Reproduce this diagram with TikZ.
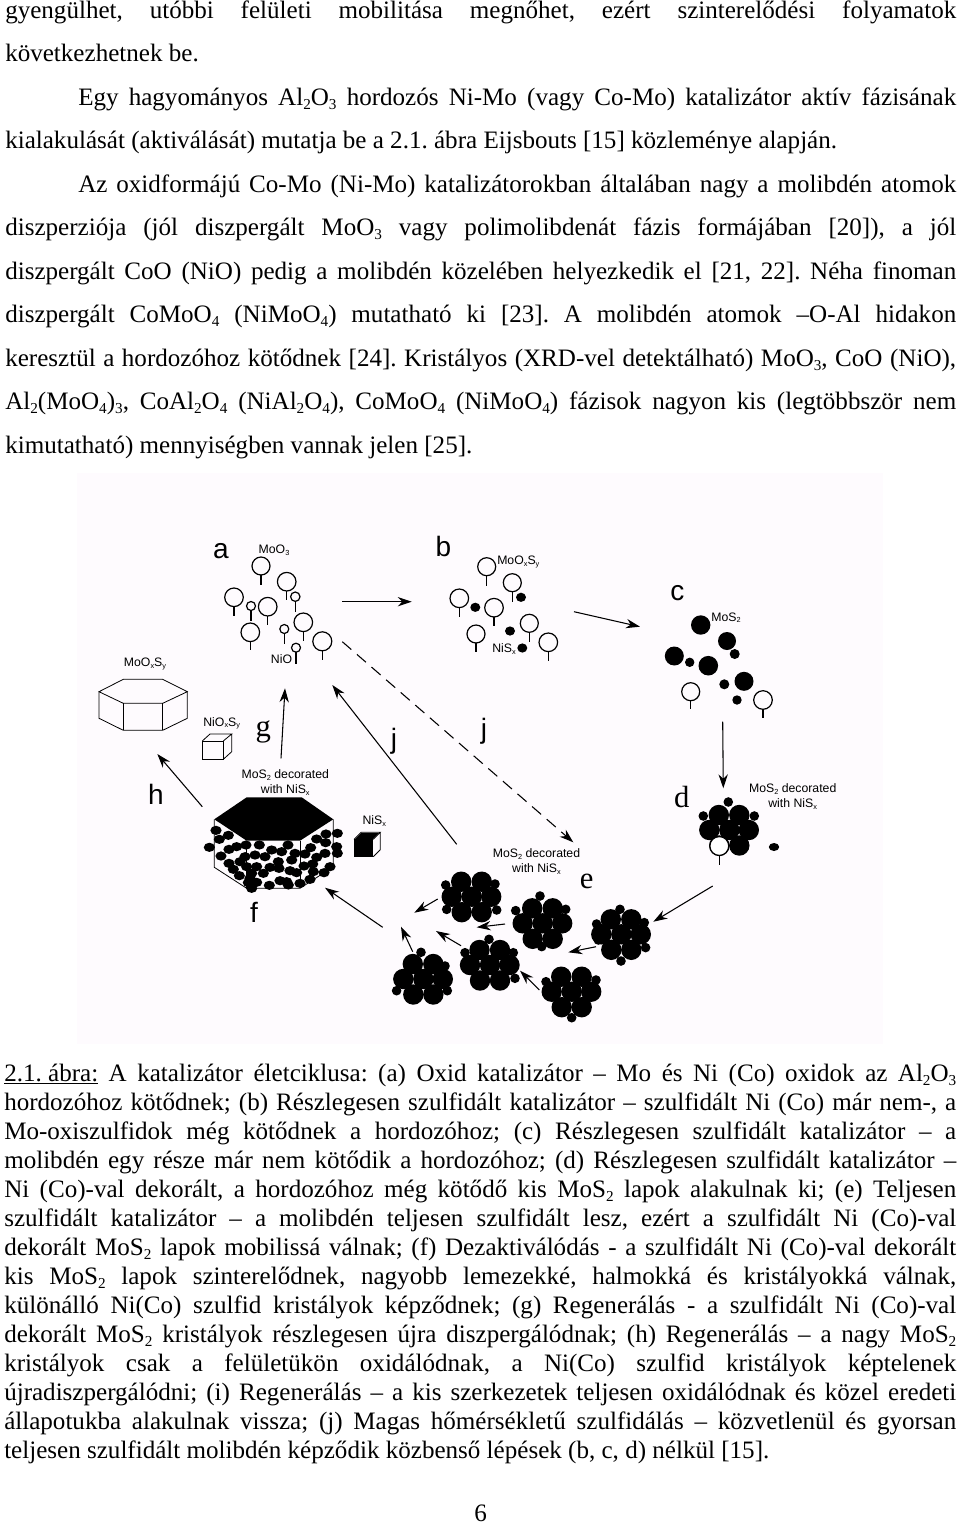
\documentclass[tikz,border=0pt]{standalone}
\usepackage{fontspec}
\setmainfont{Liberation Serif}
\newfontfamily\figfont{Liberation Sans}
\usetikzlibrary{arrows.meta}

\definecolor{figback}{HTML}{FEFBFE}
\frenchspacing

% a line of the page, stretched to its full width
\newcommand{\pageline}[5]{\node[pagetext] (#1) at (#2,#3) {\hbox to \dimexpr #4pt*3/4\relax{#5}};}
\newcommand{\subn}[1]{\raisebox{-.35ex}{\fontsize{11.4}{11.4}\selectfont #1}}
\newcommand{\subf}[1]{\raisebox{-.3ex}{\fontsize{5.5}{5.5}\selectfont #1}}
% support grain on a stalk
\newcommand{\stemball}[4]{
  \draw[ballline] (#1,#2) circle [radius=#3];
  \draw[ballline] (#1,{#2+#3}) -- (#1,#4);
}
% hexagonal heap of crystallites
\newcommand{\ballheap}[3]{
  \begin{scope}[shift={(#1,#2)}]
    \foreach \bx/\by in {-10.5/-15,10/-15,-20/0,0/0,19.5/0,-10/15.5,10/15.5}
      \fill (\bx,\by) circle [radius=10.2];
    \foreach \bx/\by in {#3}
      \fill (\bx,\by) circle [radius=4.8];
  \end{scope}
}

\begin{document}
\begin{tikzpicture} [
    x=0.75pt, y=-0.75pt,
    pagetext/.style  = { anchor=base west, inner sep=0pt, font=\fontsize{18.8}{22}\selectfont },
    figlabel/.style  = { inner sep=0pt, font=\figfont\fontsize{9.2}{11}\selectfont, align=center },
    letter/.style    = { inner sep=0pt, font=\figfont\fontsize{21}{24}\selectfont },
    serifletter/.style = { inner sep=0pt, font=\fontsize{23}{24}\selectfont },
    ballline/.style  = { draw, line width=0.9pt },
    edgeline/.style  = { draw, line width=0.6pt },
    line/.style      = { draw, line width=0.8pt, -{Stealth[length=10.5pt,width=7pt]} },
  ]
  \useasboundingbox (0,0) rectangle (960,1525);
  \fill[white] (0,0) rectangle (960,1525);
  \fill[figback] (77,473) rectangle (883,1044);

  % text above the figure
  \pageline{top1}{5}{18}{951}{gyengülhet, utóbbi felületi mobilitása megnőhet, ezért szinterelődési folyamatok}
  \node[pagetext] (top2) at (5,61.5) {következhetnek be.};
  \pageline{top3}{78}{105}{878}{Egy hagyományos Al\subn{2}O\subn{3} hordozós Ni-Mo (vagy Co-Mo) katalizátor aktív fázisának}
  \node[pagetext] (top4) at (5,148.5) {kialakulását (aktiválását) mutatja be a 2.1. ábra Eijsbouts [15] közleménye alapján.};
  \pageline{top5}{78}{192}{878}{Az oxidformájú Co-Mo (Ni-Mo) katalizátorokban általában nagy a molibdén atomok}
  \pageline{top6}{5}{235.5}{951}{diszperziója (jól diszpergált MoO\subn{3} vagy polimolibdenát fázis formájában [20]), a jól}
  \pageline{top7}{5}{279}{951}{diszpergált CoO (NiO) pedig a molibdén közelében helyezkedik el [21, 22]. Néha finoman}
  \pageline{top8}{5}{322.5}{951}{diszpergált CoMoO\subn{4} (NiMoO\subn{4}) mutatható ki [23]. A molibdén atomok –O-Al hidakon}
  \pageline{top9}{5}{366}{951}{keresztül a hordozóhoz kötődnek [24]. Kristályos (XRD-vel detektálható) MoO\subn{3}, CoO (NiO),}
  \pageline{top10}{5}{409.5}{951}{Al\subn{2}(MoO\subn{4})\subn{3}, CoAl\subn{2}O\subn{4} (NiAl\subn{2}O\subn{4}), CoMoO\subn{4} (NiMoO\subn{4}) fázisok nagyon kis (legtöbbször nem}
  \node[pagetext] (top11) at (5,453) {kimutatható) mennyiségben vannak jelen [25].};

  % stage a
  \foreach \sx/\sy/\sr/\sb in {261/566/9/585, 286.7/581.7/9.3/600, 234/597.3/9.3/616,
      251/606/4.5/620.7, 267.7/606.7/9.3/625, 295.3/596.7/4.7/612, 303.3/622.3/9.3/641,
      250.3/632.3/9.3/650, 284.3/629/4.5/643.7, 296/647.7/4.5/663.7, 322.3/641.3/9.5/660}
    {\stemball{\sx}{\sy}{\sr}{\sb}}
  \node[letter] (la) at (221,551) {a};
  \node[figlabel] (moo3) at (274,550) {MoO\subf{3}};
  \node[figlabel] (nio) at (281.5,659.5) {NiO};

  % stage b
  \foreach \sx/\sy/\sr/\sb in {459.3/598.3/9.3/616.7, 476/634/9/651.7, 486.7/566.7/9/586,
      512.3/582.7/9/601.7, 494/607.7/9.3/626, 529.3/623.3/9/642.3, 548.3/642.3/9.3/660.7}
    {\stemball{\sx}{\sy}{\sr}{\sb}}
  \foreach \sx/\sy in {475.3/607.3, 521/597.3, 510/631, 522.3/648}
    \fill (\sx,\sy) ellipse [x radius=5, y radius=4.6];
  \node[letter] (lb) at (443.3,546) {b};
  \node[figlabel] (mooxsyb) at (518.3,561.7) {MoO\subf{x}S\subf{y}};
  \node[figlabel] (nisb) at (504,649) {NiS\subf{x}};

  % stage c
  \foreach \sx/\sy/\sr in {700.7/625/9.7, 727/641/9, 674.3/656/9.5, 708.3/665.7/9.8, 744/681.3/9.5,
      734.7/654/5, 689.7/662.3/4.7, 724.3/684.3/5, 737/700/4.7}
    \fill (\sx,\sy) circle [radius=\sr];
  \stemball{690.7}{691.7}{9}{709}
  \stemball{763}{700}{9.3}{718.3}
  \node[letter] (lc) at (677.3,593) {c};
  \node[figlabel] (mos2c) at (726,617.7) {MoS\subf{2}};

  % stage d
  \ballheap{729.3}{830}{-1/-28, -26/-14, 25/-14}
  \draw[ballline, fill=white, line width=1pt] (719.3,846) circle [radius=9.5];
  \draw[ballline] (719.3,855.5) -- (719.3,865);
  \fill (774,847) ellipse [x radius=5.2, y radius=4];
  \node[serifletter] (ld) at (681.7,797) {d};
  \node[figlabel] (decod) at (792.7,796.5) {MoS\subf{2} decorated\\with NiS\subf{x}};

  % stage e
  \ballheap{621.3}{934.3}{-1.3/-25, -24.7/-10.3, 23/-11.7, 24.3/13.3, -0.3/26.7, -23/5.7}
  \ballheap{542.7}{923.3}{-2.7/-27.3, -27/-12.7, 23/-14, -1/23.3}
  \ballheap{471.7}{896.7}{-26/-11.7, 23.3/-12.7, -25/12.7, 25/13.3}
  \ballheap{490}{965}{-1/-25.7, -25/-12.3, 23.3/-12.3, 25/13.3}
  \ballheap{571.7}{991.7}{-25.7/-10, 24.3/-11.7, 0/26}
  \ballheap{423.3}{979}{-2.3/-26.7, 21.7/-13, -26.7/11.7, 24/11.7}
  \node[serifletter] (le) at (586.7,881) {e};
  \node[figlabel] (decoe) at (536.5,861.5) {MoS\subf{2} decorated\\with NiS\subf{x}};

  % stage f, black topped crystal with its grains
  \draw[edgeline] (214.3,819.3) -- (214.3,867.3) -- (246.7,888.3) -- (300,888.3) -- (333.3,866.7) -- (333.3,819.3);
  \draw[edgeline] (246.7,840.7) -- (246.7,888.3) (300,840.7) -- (300,888.3);
  \fill (246.7,797.3) -- (301.7,797.3) -- (333.3,819.3) -- (300,840.7) -- (246.7,840.7) -- (214.3,819.3) -- cycle;
  \foreach \ex/\ey in {408/241,418/268,445/256,388/292,423/318,447/298,470/290,498/285,538/285,
      575/300,605/305,624/285,645/310,675/312,692/293,710/267,738/252,772/250,737/278,770/290,
      772/310,735/310,710/322,750/350,732/368,698/342,672/348,700/365,690/388,660/400,630/362,
      650/368,625/405,600/392,568/406,530/397,505/398,515/415,478/377,460/358,447/340,495/320,
      525/315,555/320,595/335,635/330,500/350,530/350,570/352,597/355,515/370,550/370,510/385,
      620/395,480/335}
    \fill ({80+\ex/3},{750+\ey/3}) ellipse [x radius=5.6, y radius=4.6];
  \node[letter] (lf) at (254,912) {f};
  \node[figlabel] (decof) at (285.3,782.5) {MoS\subf{2} decorated\\with NiS\subf{x}};

  % black cube
  \fill (354,839.3) rectangle (373.3,856.7);
  \draw[edgeline] (354,839.3) -- (361,832.3) -- (380.3,832.3) -- (373.3,839.3) (380.3,832.3) -- (380.3,849.7) -- (373.3,856.7);
  \fill (361,833) -- (379,833) -- (373,839) -- (355,839) -- cycle;
  \node[figlabel] (nisf) at (374.3,821) {NiS\subf{x}};

  % oxidised crystal and small cube
  \draw[edgeline] (123.3,679.3) -- (162.7,679.3) -- (187.3,691.7) -- (162.7,703.3) -- (123.3,703.3) -- (99,691.7) -- cycle;
  \draw[edgeline] (99,691.7) -- (99,718.3) -- (123.3,730.3) -- (162.7,730.3) -- (187.3,718.3) -- (187.3,691.7);
  \draw[edgeline] (123.3,703.3) -- (123.3,730.3) (162.7,703.3) -- (162.7,730.3);
  \node[figlabel] (mooxsyh) at (145,663.7) {MoO\subf{x}S\subf{y}};
  \draw[edgeline] (202.3,741) rectangle (223.3,759.3);
  \draw[edgeline] (202.3,741) -- (210,734) -- (231.7,734) -- (223.3,741) (231.7,734) -- (231.7,751.7) -- (223.3,759.3);
  \node[figlabel] (nioxsy) at (221.7,723.3) {NiO\subf{x}S\subf{y}};

  \node[serifletter] (lg) at (263.3,732) {g};
  \node[letter] (lh) at (156,794) {h};
  \node[letter] (li) at (394,741) {j};
  \node[letter] (lj) at (484,731) {j};

  % connector ends
  \coordinate (aout) at (342.3,601.7);   \coordinate (bin) at (411.7,601.7);
  \coordinate (bout) at (574,611.7);     \coordinate (cin) at (640,626.7);
  \coordinate (cout) at (722.7,721.7);   \coordinate (din) at (723.3,788.3);
  \coordinate (dout) at (712.7,886);     \coordinate (ein) at (653.3,921.7);
  \coordinate (e1out) at (596,946.7);    \coordinate (e1in) at (568.3,952.3);
  \coordinate (e2out) at (505,924);      \coordinate (e2in) at (476.7,927.3);
  \coordinate (e3out) at (437.7,899);    \coordinate (e3in) at (414.3,912.7);
  \coordinate (e4out) at (461,945.7);    \coordinate (e4in) at (436,931);
  \coordinate (e5out) at (539.3,990);    \coordinate (e5in) at (520,970.7);
  \coordinate (e6out) at (412.7,951.7);  \coordinate (e6in) at (401,926.7);
  \coordinate (eout) at (382.7,927.3);   \coordinate (fin) at (325,887.7);
  \coordinate (gout) at (281,758.3);     \coordinate (ain) at (285,688.3);
  \coordinate (hout) at (202.3,806.7);   \coordinate (hin) at (157.3,754);
  \coordinate (iout) at (456.7,844.3);   \coordinate (iin) at (332.3,685);
  \coordinate (jout) at (342.3,641.7);   \coordinate (jin) at (573.3,842.3);

  % connect the stages
  \path [line] (aout) -- (bin);
  \path [line] (bout) -- (cin);
  \path [line] (cout) -- (din);
  \path [line] (dout) -- (ein);
  \path [line] (e1out) -- (e1in);
  \path [line] (e2out) -- (e2in);
  \path [line] (e3out) -- (e3in);
  \path [line] (e4out) -- (e4in);
  \path [line] (e5out) -- (e5in);
  \path [line] (e6out) -- (e6in);
  \path [line] (eout) -- (fin);
  \path [line] (gout) -- (ain);
  \path [line] (hout) -- (hin);
  \path [line] (iout) -- (iin);
  \path [line, dash pattern=on 9pt off 5.5pt] (jout) -- (jin);

  % caption
  \pageline{cap1}{4}{1081}{952}{\underline{2.1. ábra:} A katalizátor életciklusa: (a) Oxid katalizátor – Mo és Ni (Co) oxidok az Al\subn{2}O\subn{3}}
  \pageline{cap2}{4}{1110}{952}{hordozóhoz kötődnek; (b) Részlegesen szulfidált katalizátor – szulfidált Ni (Co) már nem-, a}
  \pageline{cap3}{4}{1139}{952}{Mo-oxiszulfidok még kötődnek a hordozóhoz; (c) Részlegesen szulfidált katalizátor – a}
  \pageline{cap4}{4}{1168}{952}{molibdén egy része már nem kötődik a hordozóhoz; (d) Részlegesen szulfidált katalizátor –}
  \pageline{cap5}{4}{1197}{952}{Ni (Co)-val dekorált, a hordozóhoz még kötődő kis MoS\subn{2} lapok alakulnak ki; (e) Teljesen}
  \pageline{cap6}{4}{1226}{952}{szulfidált katalizátor – a molibdén teljesen szulfidált lesz, ezért a szulfidált Ni (Co)-val}
  \pageline{cap7}{4}{1255}{952}{dekorált MoS\subn{2} lapok mobilissá válnak; (f) Dezaktiválódás - a szulfidált Ni (Co)-val dekorált}
  \pageline{cap8}{4}{1284}{952}{kis MoS\subn{2} lapok szinterelődnek, nagyobb lemezekké, halmokká és kristályokká válnak,}
  \pageline{cap9}{4}{1313}{952}{különálló Ni(Co) szulfid kristályok képződnek; (g) Regenerálás - a szulfidált Ni (Co)-val}
  \pageline{cap10}{4}{1342}{952}{dekorált MoS\subn{2} kristályok részlegesen újra diszpergálódnak; (h) Regenerálás – a nagy MoS\subn{2}}
  \pageline{cap11}{4}{1371}{952}{kristályok csak a felületükön oxidálódnak, a Ni(Co) szulfid kristályok képtelenek}
  \pageline{cap12}{4}{1400}{952}{újradiszpergálódni; (i) Regenerálás – a kis szerkezetek teljesen oxidálódnak és közel eredeti}
  \pageline{cap13}{4}{1429}{952}{állapotukba alakulnak vissza; (j) Magas hőmérsékletű szulfidálás – közvetlenül és gyorsan}
  \node[pagetext] (cap14) at (4,1458) {teljesen szulfidált molibdén képződik közbenső lépések (b, c, d) nélkül [15].};
  \node[pagetext] (pagenum) at (474,1521) {6};
\end{tikzpicture}
\end{document}
